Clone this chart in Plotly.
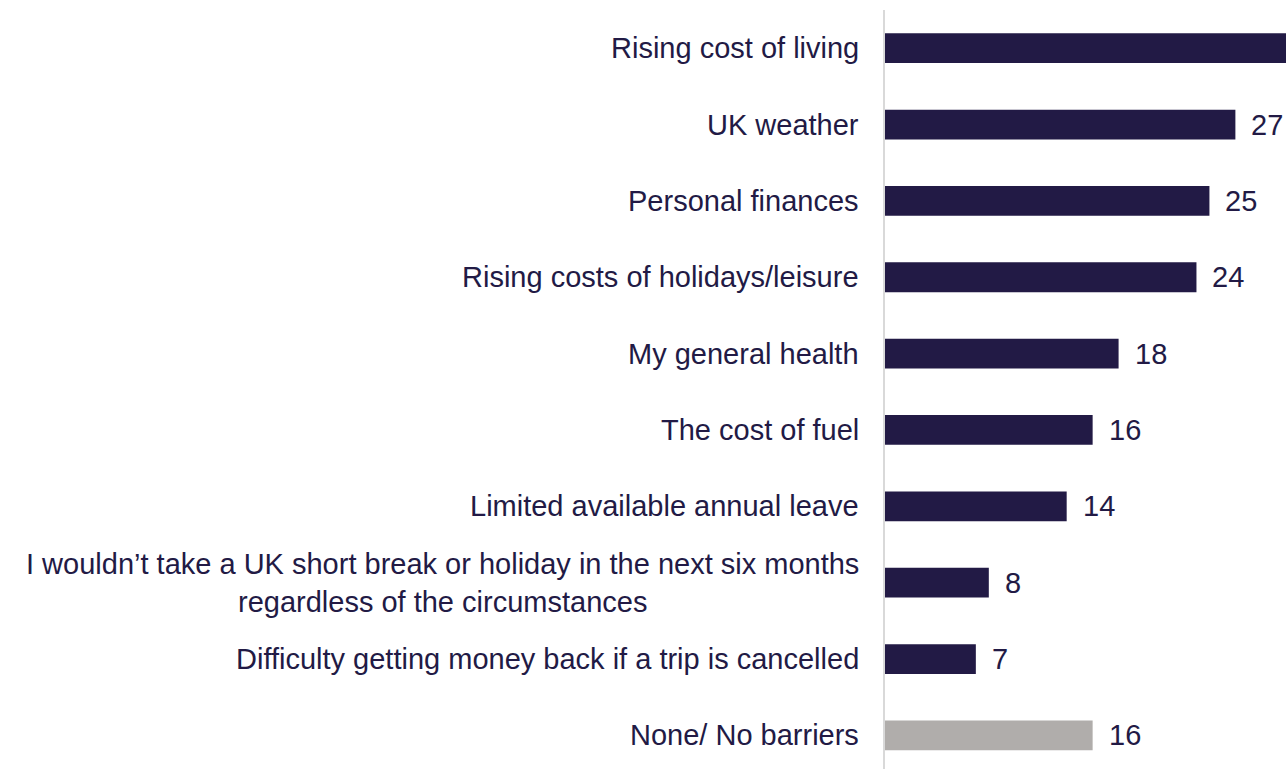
import plotly.graph_objects as go

categories = [
    "Rising cost of living",
    "UK weather",
    "Personal finances",
    "Rising costs of holidays/leisure",
    "My general health",
    "The cost of fuel",
    "Limited available annual leave",
    "I wouldn\u2019t take a UK short break or holiday in the next six months<br>regardless of the circumstances",
    "Difficulty getting money back if a trip is cancelled",
    "None/ No barriers",
]
values = [34, 27, 25, 24, 18, 16, 14, 8, 7, 16]
value_labels = ["34", "27", "25", "24", "18", "16", "14", "8", "7", "16"]
bar_colors = ["#221a45"] * 9 + ["#b0adab"]

TEXT = "#221a45"
FONT = "Liberation Sans, Arial, sans-serif"

fig = go.Figure()
fig.add_trace(go.Bar(
    x=values, y=categories, orientation="h",
    marker=dict(color=bar_colors, line=dict(width=0)),
    width=0.39, showlegend=False, hoverinfo="skip",
))

annotations = []
for c, v, lab in zip(categories, values, value_labels):
    annotations.append(dict(
        x=v, y=c, xref="x", yref="y", text=lab, showarrow=False,
        xanchor="left", yanchor="middle", xshift=14,
        font=dict(size=29, color=TEXT, family=FONT),
    ))
    annotations.append(dict(
        x=0, y=c, xref="paper", yref="y", text=c, showarrow=False,
        xanchor="right", yanchor="middle", xshift=-24, align="center",
        font=dict(size=29, color=TEXT, family=FONT),
    ))

fig.update_layout(
    width=1286, height=769,
    margin=dict(l=885, r=0, t=10, b=0),
    paper_bgcolor="white", plot_bgcolor="white",
    font=dict(family=FONT, size=29, color=TEXT),
    annotations=annotations,
)
fig.update_xaxes(range=[0, 30.9], visible=False, showgrid=False, zeroline=False)
fig.update_yaxes(
    type="category", categoryorder="array", categoryarray=categories,
    range=[9.44, -0.5], showticklabels=False, showgrid=False, zeroline=False,
    showline=True, linecolor="#d9d9d9", linewidth=2, ticks="",
)

fig.write_html(
    "out.html",
    config={"displayModeBar": False},
    post_script="document.body.style.margin='0';document.body.style.overflow='hidden';",
)
